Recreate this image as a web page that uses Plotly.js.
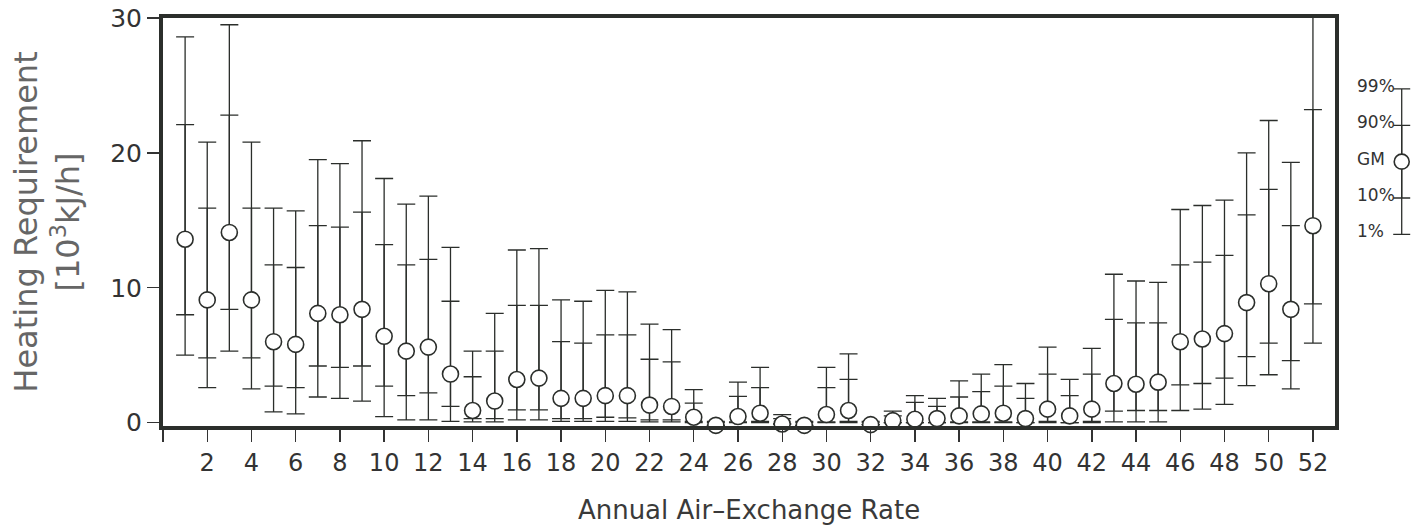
<!DOCTYPE html>
<html>
<head>
<meta charset="utf-8">
<script src="https://cdn.plot.ly/plotly-3.0.1.min.js"></script>
<style>
  html, body { margin: 0; padding: 0; background: #ffffff; }
  #chart { width: 1426px; height: 526px; }
</style>
</head>
<body>
<div id="chart"></div>
<script>
// Annual air-exchange rate index (x categories)
const rates = [1,2,3,4,5,6,7,8,9,10,11,12,13,14,15,16,17,18,19,20,21,22,23,24,25,26,
               27,28,29,30,31,32,33,34,35,36,37,38,39,40,41,42,43,44,45,46,47,48,49,50,51,52];

// Heating requirement [10^3 kJ/h] — geometric mean and percentiles
const gm  = [13.6, 9.1, 14.1, 9.1, 6.0, 5.8, 8.1, 8.0, 8.4, 6.4, 5.3, 5.6, 3.6, 0.9, 1.6, 3.2, 3.3, 1.8, 1.8, 2.0,
             2.0, 1.3, 1.2, 0.4, -0.2, 0.45, 0.7, -0.1, -0.2, 0.6, 0.9, -0.15, 0.15, 0.25, 0.3, 0.5, 0.65, 0.7, 0.3, 1.0,
             0.5, 1.0, 2.9, 2.85, 3.0, 6.0, 6.2, 6.6, 8.9, 10.3, 8.4, 14.6];
const p99 = [28.6, 20.8, 29.5, 20.8, 15.9, 15.7, 19.5, 19.2, 20.9, 18.1, 16.2, 16.8, 13.0, 5.3, 8.1, 12.8, 12.9, 9.1, 9.0, 9.8,
             9.7, 7.3, 6.9, 2.45, 0.1, 3.0, 4.1, 0.6, 0.1, 4.1, 5.1, 0.1, 0.85, 2.0, 1.8, 3.1, 3.6, 4.3, 2.9, 5.6,
             3.2, 5.5, 11.0, 10.5, 10.4, 15.8, 16.1, 16.5, 20.0, 22.4, 19.3, 32.0];
const p90 = [22.1, 15.9, 22.8, 15.9, 11.7, 11.5, 14.6, 14.5, 15.6, 13.2, 11.7, 12.1, 9.0, 3.4, 5.3, 8.7, 8.7, 6.0, 5.9, 6.5,
             6.5, 4.7, 4.5, 1.45, 0.0, 1.95, 2.6, 0.3, 0.0, 2.6, 3.2, 0.0, 0.5, 1.5, 1.2, 1.9, 2.3, 2.7, 1.8, 3.6,
             2.0, 3.6, 7.65, 7.4, 7.4, 11.7, 11.9, 12.4, 15.4, 17.3, 14.6, 23.2];
const p10 = [8.0, 4.8, 8.4, 4.8, 2.7, 2.6, 4.2, 4.1, 4.2, 2.7, 2.0, 2.2, 1.2, 0.3, 0.3, 0.95, 0.95, 0.3, 0.3, 0.4,
             0.35, 0.2, 0.2, 0.1, -0.2, 0.05, 0.1, -0.1, -0.2, 0.05, 0.1, -0.15, 0.0, 0.0, 0.0, 0.05, 0.05, 0.05, 0.0, 0.1,
             0.0, 0.1, 0.85, 0.9, 0.9, 2.8, 2.9, 3.3, 4.9, 5.9, 4.6, 8.8];
const p1  = [5.0, 2.6, 5.3, 2.5, 0.8, 0.65, 1.9, 1.8, 1.6, 0.45, 0.2, 0.2, 0.1, 0.05, 0.05, 0.2, 0.2, 0.1, 0.1, 0.1,
             0.1, 0.05, 0.05, 0.0, -0.2, 0.0, 0.0, -0.1, -0.2, 0.0, 0.0, -0.15, 0.0, 0.0, 0.0, 0.0, 0.0, 0.0, 0.0, 0.0,
             0.0, 0.0, 0.05, 0.05, 0.05, 0.9, 1.0, 1.35, 2.75, 3.55, 2.5, 5.9];

// Axis ticks
const xTickVals = [0,2,4,6,8,10,12,14,16,18,20,22,24,26,28,30,32,34,36,38,40,42,44,46,48,50,52];
const xTickText = ['','2','4','6','8','10','12','14','16','18','20','22','24','26','28','30','32','34','36','38',
                   '40','42','44','46','48','50','52'];
const yTickVals = [0,10,20,30];

// Key (legend) levels
const keyLabels = ['1%','10%','GM','90%','99%'];
const keyLevels = [0,1,2,3,4];

const ink = '#2b2e2b';
const up = (hi, mid) => hi.map((v, i) => Math.max(0, v - mid[i]));
const down = (lo, mid) => lo.map((v, i) => Math.max(0, mid[i] - v));

const outer = {
  type: 'scatter', mode: 'markers', x: rates, y: gm, cliponaxis: false,
  marker: { size: 2, color: 'rgba(0,0,0,0)' },
  error_y: { type: 'data', symmetric: false, array: up(p99, gm), arrayminus: down(p1, gm),
             color: ink, thickness: 1.3, width: 9 },
  showlegend: false, hoverinfo: 'skip'
};
const inner = {
  type: 'scatter', mode: 'markers', x: rates, y: gm, cliponaxis: false,
  marker: { symbol: 'circle', size: 16, color: '#ffffff', line: { color: ink, width: 1.6 } },
  error_y: { type: 'data', symmetric: false, array: up(p90, gm), arrayminus: down(p10, gm),
             color: ink, thickness: 1.3, width: 9 },
  showlegend: false
};

const keyMid = keyLevels[2];
const keyOuter = {
  type: 'scatter', mode: 'markers', x: [0], y: [keyMid], xaxis: 'x2', yaxis: 'y2', cliponaxis: false,
  marker: { size: 2, color: 'rgba(0,0,0,0)' },
  error_y: { type: 'data', symmetric: false, array: [keyLevels[4] - keyMid], arrayminus: [keyMid - keyLevels[0]],
             color: ink, thickness: 1.3, width: 8.5 },
  showlegend: false, hoverinfo: 'skip'
};
const keyInner = {
  type: 'scatter', mode: 'markers', x: [0], y: [keyMid], xaxis: 'x2', yaxis: 'y2', cliponaxis: false,
  marker: { symbol: 'circle', size: 15, color: '#ffffff', line: { color: ink, width: 1.6 } },
  error_y: { type: 'data', symmetric: false, array: [keyLevels[3] - keyMid], arrayminus: [keyMid - keyLevels[1]],
             color: ink, thickness: 1.3, width: 8.5 },
  showlegend: false, hoverinfo: 'skip'
};

const annotations = keyLabels.map((t, i) => ({
  text: t, xref: 'paper', yref: 'y2', x: 0.9513, y: keyLevels[i] + 0.08, xanchor: 'left', yanchor: 'middle',
  showarrow: false, font: { family: 'DejaVu Sans', size: 17, color: '#333' }
}));

const layout = {
  width: 1426, height: 526,
  margin: { l: 163, r: 10, t: 18, b: 100 },
  paper_bgcolor: '#ffffff', plot_bgcolor: '#ffffff',
  showlegend: false,
  xaxis: {
    domain: [0, 0.9354], range: [0, 53], anchor: 'y',
    tickmode: 'array', tickvals: xTickVals, ticktext: xTickText,
    ticks: 'outside', ticklen: 12, tickwidth: 1.4, tickcolor: '#333',
    showline: true, mirror: true, linewidth: 4, linecolor: ink,
    showgrid: false, zeroline: false,
    tickfont: { family: 'DejaVu Sans', size: 24, color: '#333' },
    title: { text: 'Annual Air\u2013Exchange Rate', standoff: 26,
             font: { family: 'DejaVu Sans', size: 26, color: '#3a3a3a' } }
  },
  yaxis: {
    domain: [0, 1], range: [-0.25, 30], anchor: 'x',
    tickmode: 'array', tickvals: yTickVals,
    ticks: 'outside', ticklen: 12, tickwidth: 1.4, tickcolor: '#333',
    showline: true, mirror: true, linewidth: 4, linecolor: ink,
    showgrid: false, zeroline: false,
    tickfont: { family: 'DejaVu Sans', size: 25, color: '#333' },
    title: { text: 'Heating Requirement<br>[10<sup>3</sup>kJ/h]', standoff: 22,
             font: { family: 'DejaVu Sans', size: 32, color: '#666' } }
  },
  xaxis2: { domain: [0.9806, 0.9966], range: [-1, 1], anchor: 'y2', visible: false, fixedrange: true },
  yaxis2: { domain: [0.4252, 0.8706], range: [-0.5, 4.5], anchor: 'x2', visible: false, fixedrange: true },
  annotations: annotations
};

Plotly.newPlot('chart', [outer, inner, keyOuter, keyInner], layout, { displayModeBar: false, staticPlot: true });
</script>
</body>
</html>
